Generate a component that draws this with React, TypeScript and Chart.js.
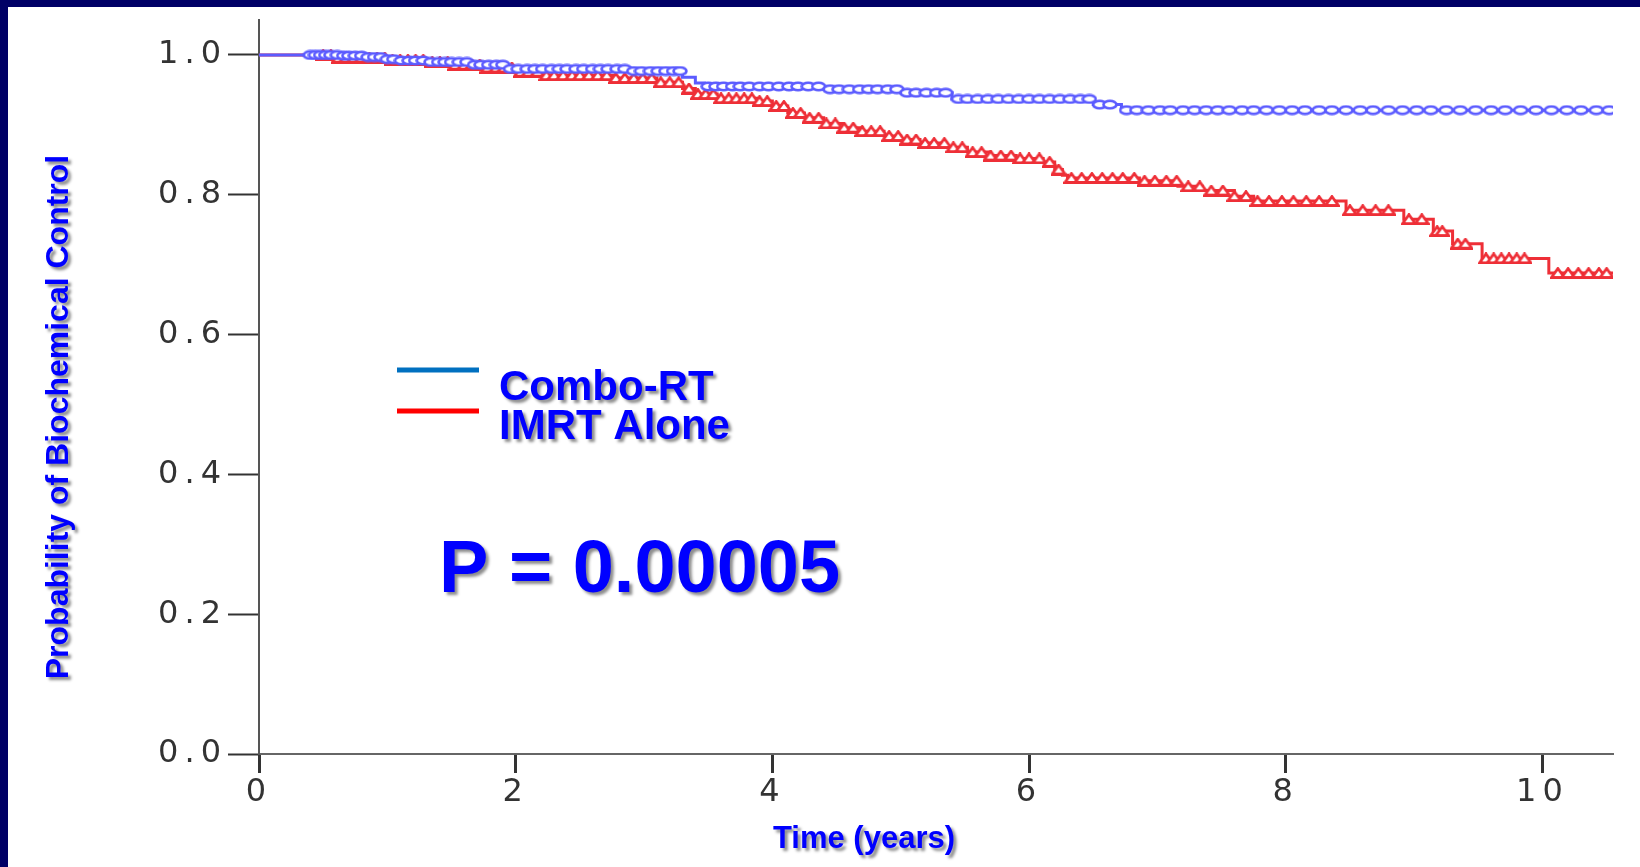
import React, { useEffect, useRef } from "react";
import { Chart, registerables } from "chart.js";

Chart.register(...registerables);

// ---- data ----
const seriesNames = ["Combo-RT", "IMRT Alone"];

// Kaplan-Meier step points: time (years) and survival probability
const comboTimes = [0, 0.62, 0.83, 0.97, 1.09, 1.33, 1.63, 1.92, 2.88, 3.3, 3.4, 3.47, 4.4, 5.0, 5.4, 6.5, 6.72, 10.55];
const comboSurv = [1.0, 0.999, 0.997, 0.994, 0.992, 0.99, 0.986, 0.98, 0.977, 0.968, 0.96, 0.955, 0.951, 0.946, 0.937, 0.929, 0.921, 0.921];

const imrtTimes = [0, 0.62, 1.0, 1.3, 1.5, 1.75, 2.0, 2.2, 2.76, 3.1, 3.3, 3.4, 3.57, 3.9, 4.0, 4.12, 4.25, 4.4, 4.55, 4.7, 4.87, 5.0, 5.15, 5.35, 5.52, 5.7, 5.9, 6.11, 6.2, 6.26, 6.3, 6.86, 7.16, 7.35, 7.6, 7.75, 8.47, 8.92, 9.15, 9.3, 9.53, 10.05, 10.55];
const imrtSurv = [1.0, 0.996, 0.993, 0.99, 0.986, 0.982, 0.976, 0.971, 0.967, 0.961, 0.952, 0.944, 0.938, 0.934, 0.927, 0.917, 0.91, 0.902, 0.896, 0.891, 0.884, 0.879, 0.874, 0.868, 0.861, 0.856, 0.852, 0.847, 0.836, 0.828, 0.824, 0.82, 0.812, 0.806, 0.798, 0.791, 0.778, 0.765, 0.748, 0.73, 0.709, 0.688, 0.688];

// censoring times (markers on the curves)
const comboCensor = [0.40, 0.44, 0.48, 0.52, 0.56, 0.61, 0.66, 0.7, 0.75, 0.8, 0.85, 0.9, 0.95, 1.0, 1.05, 1.11, 1.17, 1.22, 1.28, 1.34, 1.4, 1.45, 1.5, 1.56, 1.62, 1.68, 1.73, 1.79, 1.85, 1.9, 1.96, 2.02, 2.09, 2.15, 2.21, 2.28, 2.34, 2.4, 2.47, 2.53, 2.6, 2.66, 2.72, 2.79, 2.85, 2.92, 2.98, 3.05, 3.11, 3.17, 3.23, 3.28, 3.5, 3.56, 3.62, 3.69, 3.75, 3.82, 3.9, 3.97, 4.05, 4.13, 4.2, 4.28, 4.36, 4.45, 4.52, 4.6, 4.68, 4.75, 4.82, 4.9, 4.97, 5.05, 5.12, 5.2, 5.28, 5.35, 5.45, 5.52, 5.6, 5.68, 5.76, 5.84, 5.92, 6.0, 6.08, 6.16, 6.24, 6.32, 6.4, 6.47, 6.55, 6.63, 6.76, 6.84, 6.93, 7.02, 7.1, 7.2, 7.29, 7.38, 7.47, 7.56, 7.66, 7.75, 7.85, 7.95, 8.05, 8.15, 8.26, 8.36, 8.47, 8.58, 8.68, 8.8, 8.91, 9.02, 9.13, 9.25, 9.36, 9.48, 9.6, 9.71, 9.83, 9.95, 10.07, 10.19, 10.3, 10.42, 10.52];
const imrtCensor = [0.5, 0.56, 0.62, 0.68, 0.74, 0.8, 0.86, 0.92, 0.98, 1.04, 1.1, 1.16, 1.22, 1.28, 1.35, 1.41, 1.47, 1.53, 1.6, 1.66, 1.72, 1.78, 1.85, 1.91, 1.97, 2.04, 2.1, 2.17, 2.24, 2.3, 2.37, 2.44, 2.5, 2.57, 2.64, 2.71, 2.78, 2.85, 2.92, 2.99, 3.06, 3.13, 3.2, 3.27, 3.35, 3.42, 3.48, 3.54, 3.6, 3.66, 3.72, 3.78, 3.84, 3.9, 3.96, 4.03, 4.09, 4.16, 4.22, 4.29, 4.36, 4.42, 4.49, 4.56, 4.63, 4.7, 4.77, 4.84, 4.91, 4.98, 5.05, 5.12, 5.19, 5.26, 5.34, 5.41, 5.48, 5.56, 5.63, 5.7, 5.78, 5.86, 5.93, 6.0, 6.08, 6.16, 6.23, 6.33, 6.41, 6.49, 6.57, 6.65, 6.73, 6.82, 6.9, 6.98, 7.07, 7.15, 7.24, 7.33, 7.42, 7.51, 7.6, 7.69, 7.78, 7.87, 7.97, 8.06, 8.16, 8.26, 8.36, 8.5, 8.6, 8.7, 8.8, 8.96, 9.06, 9.18, 9.22, 9.34, 9.4, 9.56, 9.62, 9.68, 9.74, 9.8, 9.86, 10.12, 10.2, 10.28, 10.36, 10.44, 10.5];

const xTicks = [0, 2, 4, 6, 8, 10];
const yTicks = [0, 0.2, 0.4, 0.6, 0.8, 1.0];
const xMax = 10.55;
const yMax = 1.05;

const xTitle = "Time (years)";
const yTitle = "Probability of Biochemical Control";
const pValueText = "P = 0.00005";

// ---- styles ----
const BLUE_CURVE = "#5B5BFF";
const RED_CURVE = "#EE2F37";
const LEGEND_BLUE = "#0070C0";
const LEGEND_RED = "#FF0000";
const TEXT_BLUE = "#0000FF";
const NAVY = "#000066";

function survAt(times: number[], surv: number[], t: number): number {
  let v = surv[0];
  for (let i = 0; i < times.length; i++) {
    if (times[i] <= t) v = surv[i];
  }
  return v;
}

function makeEllipse(): HTMLCanvasElement {
  const c = document.createElement("canvas");
  c.width = 16;
  c.height = 11;
  const g = c.getContext("2d")!;
  g.beginPath();
  g.ellipse(8, 5.5, 6.5, 3.8, 0, 0, Math.PI * 2);
  g.fillStyle = "#ffffff";
  g.fill();
  g.lineWidth = 2.6;
  g.strokeStyle = BLUE_CURVE;
  g.stroke();
  return c;
}

function makeTriangle(): HTMLCanvasElement {
  const c = document.createElement("canvas");
  c.width = 16;
  c.height = 12;
  const g = c.getContext("2d")!;
  g.beginPath();
  g.moveTo(1.5, 10.5);
  g.lineTo(8, 1.5);
  g.lineTo(14.5, 10.5);
  g.closePath();
  g.fillStyle = "#ffffff";
  g.fill();
  g.lineWidth = 2.8;
  g.strokeStyle = RED_CURVE;
  g.stroke();
  return c;
}

function shadowText(ctx: CanvasRenderingContext2D, text: string, x: number, y: number, font: string) {
  ctx.save();
  ctx.font = font;
  ctx.shadowColor = "rgba(0,0,0,0.45)";
  ctx.shadowOffsetX = 3;
  ctx.shadowOffsetY = 3;
  ctx.shadowBlur = 3;
  ctx.fillStyle = TEXT_BLUE;
  ctx.fillText(text, x, y);
  ctx.restore();
}

const annotPlugin = {
  id: "annot",
  beforeDraw(chart: any) {
    const ctx = chart.ctx as any;
    ctx.letterSpacing = "6px";
  },
  afterDraw(chart: any) {
    const ctx = chart.ctx as any;
    ctx.save();
    ctx.letterSpacing = "0px";
    // y title
    ctx.save();
    ctx.translate(51, 410);
    ctx.rotate(-Math.PI / 2);
    ctx.textAlign = "center";
    ctx.textBaseline = "middle";
    shadowText(ctx, yTitle, 0, 0, "bold 32px 'Liberation Sans', Arial, sans-serif");
    ctx.restore();
    // x title
    ctx.textAlign = "center";
    ctx.textBaseline = "middle";
    shadowText(ctx, xTitle, 856, 832, "bold 31px 'Liberation Sans', Arial, sans-serif");
    // legend
    ctx.lineWidth = 5;
    ctx.strokeStyle = LEGEND_BLUE;
    ctx.beginPath();
    ctx.moveTo(389, 363);
    ctx.lineTo(471, 363);
    ctx.stroke();
    ctx.strokeStyle = LEGEND_RED;
    ctx.beginPath();
    ctx.moveTo(389, 404);
    ctx.lineTo(471, 404);
    ctx.stroke();
    ctx.textAlign = "left";
    ctx.textBaseline = "alphabetic";
    shadowText(ctx, seriesNames[0], 491, 393, "bold 42px 'Liberation Sans', Arial, sans-serif");
    shadowText(ctx, seriesNames[1], 491, 432, "bold 42px 'Liberation Sans', Arial, sans-serif");
    // p value
    shadowText(ctx, pValueText, 431, 585, "bold 74px 'Liberation Sans', Arial, sans-serif");
    ctx.restore();
  },
};

export default function App() {
  const ref = useRef<HTMLCanvasElement | null>(null);

  useEffect(() => {
    document.body.style.margin = "0";
    const canvas = ref.current!;
    const ellipse = makeEllipse();
    const tri = makeTriangle();

    const comboLine = comboTimes.map((t, i) => ({ x: t, y: comboSurv[i] }));
    const imrtLine = imrtTimes.map((t, i) => ({ x: t, y: imrtSurv[i] }));
    const comboMarks = comboCensor.map((t) => ({ x: t, y: survAt(comboTimes, comboSurv, t) }));
    const imrtMarks = imrtCensor.map((t) => ({ x: t, y: survAt(imrtTimes, imrtSurv, t) }));

    const tickFont = { family: "'DejaVu Sans', 'Liberation Sans', sans-serif", size: 32, weight: "normal" as any };

    const chart = new Chart(canvas, {
      type: "scatter",
      data: {
        datasets: [
          {
            label: seriesNames[0] + " censored",
            data: comboMarks,
            showLine: false,
            pointStyle: ellipse as any,
            pointRadius: 6,
          },
          {
            label: seriesNames[0],
            data: comboLine,
            showLine: true,
            stepped: true,
            borderColor: BLUE_CURVE,
            borderWidth: 3,
            pointRadius: 0,
            fill: false,
          },
          {
            label: seriesNames[1] + " censored",
            data: imrtMarks,
            showLine: false,
            pointStyle: tri as any,
            pointRadius: 6,
          },
          {
            label: seriesNames[1],
            data: imrtLine,
            showLine: true,
            stepped: true,
            borderColor: RED_CURVE,
            borderWidth: 3,
            pointRadius: 0,
            fill: false,
          },
        ],
      },
      options: {
        animation: false,
        responsive: false,
        devicePixelRatio: 1,
        events: [],
        layout: { padding: { top: 13, right: 27, left: 0, bottom: 0 } },
        plugins: { legend: { display: false }, tooltip: { enabled: false }, title: { display: false } },
        scales: {
          x: {
            type: "linear",
            min: 0,
            max: xMax,
            afterBuildTicks: (s: any) => {
              s.ticks = xTicks.map((v) => ({ value: v }));
            },
            afterFit: (s: any) => {
              s.height = 113;
              s.paddingLeft = 0;
              s.paddingRight = 0;
            },
            ticks: {
              font: tickFont,
              color: "#333333",
              padding: 0,
              maxRotation: 0,
              callback: (v: any) => String(v),
            },
            grid: {
              drawOnChartArea: false,
              drawTicks: true,
              tickLength: 19,
              tickWidth: 3,
              tickColor: "#333",
            },
            border: { display: true, color: "#666", width: 2 },
          },
          y: {
            type: "linear",
            min: 0,
            max: yMax,
            afterBuildTicks: (s: any) => {
              s.ticks = yTicks.map((v) => ({ value: v }));
            },
            afterFit: (s: any) => {
              s.width = 251;
              s.paddingTop = 0;
              s.paddingBottom = 0;
            },
            ticks: {
              font: tickFont,
              color: "#333333",
              padding: 1,
              callback: (v: any) => Number(v).toFixed(1),
            },
            grid: {
              drawOnChartArea: false,
              drawTicks: true,
              tickLength: 31,
              tickWidth: 2,
              tickColor: "#333",
            },
            border: { display: true, color: "#555", width: 2 },
          },
        },
      },
      plugins: [annotPlugin],
    });

    return () => chart.destroy();
  }, []);

  return (
    <div style={{ position: "fixed", left: 0, top: 0, width: 1640, height: 867, background: NAVY, overflow: "hidden" }}>
      <canvas
        ref={ref}
        width={1632}
        height={860}
        style={{ position: "absolute", left: 8, top: 7, width: 1632, height: 860, background: "#ffffff" }}
      />
    </div>
  );
}
